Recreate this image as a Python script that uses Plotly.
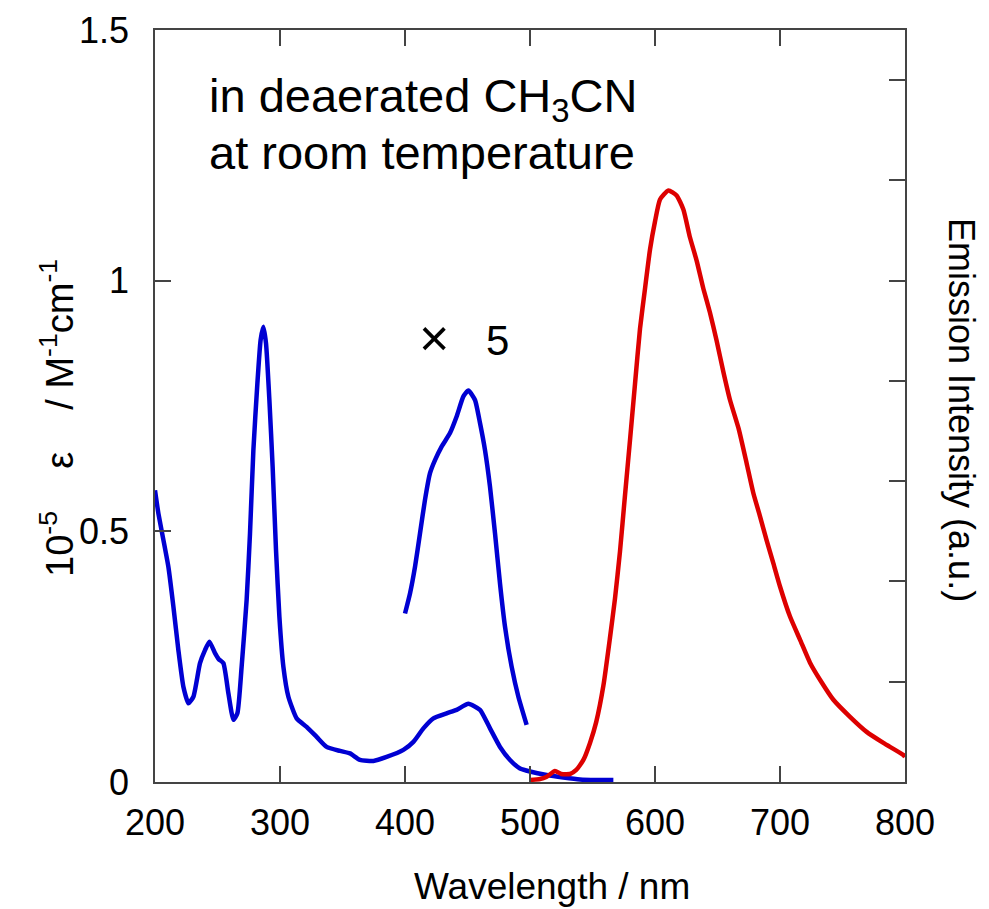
import plotly.graph_objects as go

# Absorption spectrum (left axis, 10^-5 eps / M^-1 cm^-1)
abs_wl = [200, 202.7, 206.7, 210.7, 214.7, 218.7, 222.7, 226.7, 230.7, 236, 240, 243.5, 248, 251,
          254.7, 258.7, 262.7, 265.9, 269.3, 273.3, 276, 278.7, 281.9, 284.5, 286.7, 288.8, 291.5,
          294.1, 296.8, 299.5, 302.7, 306.7, 313.3, 321.3, 329.3, 337.3, 348, 356, 364, 374.7,
          385.3, 398.7, 406.7, 414.7, 422.7, 433.3, 441.3, 450.7, 460, 468, 476, 484, 492, 500,
          513.3, 526.7, 540, 553.3, 566.7]
abs_eps = [0.582, 0.536, 0.483, 0.429, 0.35, 0.263, 0.19, 0.157, 0.170, 0.237, 0.263, 0.280, 0.257,
           0.245, 0.237, 0.177, 0.124, 0.137, 0.23, 0.363, 0.496, 0.662, 0.795, 0.882, 0.908, 0.875,
           0.762, 0.629, 0.463, 0.33, 0.23, 0.170, 0.127, 0.110, 0.090, 0.070, 0.062, 0.057, 0.044,
           0.042, 0.050, 0.064, 0.080, 0.107, 0.127, 0.137, 0.144, 0.156, 0.144, 0.107, 0.070,
           0.044, 0.027, 0.021, 0.014, 0.009, 0.005, 0.004, 0.004]

# Visible band magnified x5 (left axis)
x5_wl = [400, 404, 408, 412, 416, 420, 424, 429.3, 436, 441.3, 446.7, 450.7, 456, 460, 464, 468,
         472, 476, 480, 485.3, 490.7, 497.3]
x5_eps = [0.336, 0.376, 0.429, 0.496, 0.563, 0.616, 0.642, 0.669, 0.696, 0.729, 0.769, 0.781,
          0.762, 0.716, 0.662, 0.589, 0.496, 0.396, 0.31, 0.23, 0.170, 0.114]

# Emission spectrum (right axis, a.u.)
em_wl = [500, 508, 513, 520, 525, 532, 537, 542.7, 548, 553, 558.7, 564, 568, 572, 576, 580, 584,
         588, 592, 596, 600, 604, 610.7, 617.3, 622.7, 628, 633.3, 638.7, 644, 649.3, 654.7, 660,
         667, 673.3, 678.7, 684, 689.3, 694.7, 700, 708, 716, 724, 732, 742.7, 756, 769.3, 782.7,
         798.7, 800]
em_int = [0.02, 0.03, 0.05, 0.11, 0.08, 0.08, 0.12, 0.22, 0.39, 0.60, 0.96, 1.44, 1.83, 2.30, 2.86,
          3.41, 3.97, 4.52, 4.92, 5.31, 5.59, 5.81, 5.90, 5.85, 5.71, 5.43, 5.20, 4.92, 4.68, 4.40,
          4.09, 3.81, 3.52, 3.18, 2.88, 2.65, 2.41, 2.18, 1.95, 1.65, 1.42, 1.19, 1.02, 0.82, 0.65,
          0.50, 0.39, 0.27, 0.25]

x_ticks = [200, 300, 400, 500, 600, 700, 800]
y_ticks = [0, 0.5, 1, 1.5]
y_tick_text = ["0", "0.5", "1", "1.5"]

BLUE = "#0000D2"
RED = "#DD0000"
AX = "#444444"
FONT = "Arial, Liberation Sans, sans-serif"

OFF = 8  # page body margin
W, H = 989 - 2 * OFF, 909 - OFF
L, T = 155 - OFF, 30 - OFF
R = W - (905 - OFF)
B = H - (782 - OFF)
PW, PH = W - L - R, H - T - B

def px(x):
    return (x - OFF - L) / PW

def py(y):
    return (H - B - (y - OFF)) / PH

fig = go.Figure()
fig.add_trace(go.Scatter(x=abs_wl, y=abs_eps, mode="lines",
                         line=dict(color=BLUE, width=4.5, shape="spline", smoothing=0.5),
                         showlegend=False))
fig.add_trace(go.Scatter(x=x5_wl, y=x5_eps, mode="lines",
                         line=dict(color=BLUE, width=4.5, shape="spline", smoothing=0.5),
                         showlegend=False))
fig.add_trace(go.Scatter(x=em_wl, y=em_int, mode="lines", yaxis="y2",
                         line=dict(color=RED, width=4.5, shape="spline", smoothing=0.5),
                         showlegend=False))

fig.update_layout(
    width=W, height=H,
    margin=dict(l=L, r=R, t=T, b=B, pad=0, autoexpand=False),
    paper_bgcolor="white", plot_bgcolor="white",
    font=dict(family=FONT, color="black", size=36),
    xaxis=dict(range=[200, 800], tickvals=x_ticks, ticks="inside", ticklen=16,
               tickwidth=1.5, tickcolor=AX, showline=True, linecolor=AX, linewidth=1.5,
               mirror="ticks", showgrid=False, zeroline=False,
               tickfont=dict(size=36, family=FONT), ticklabelstandoff=8),
    yaxis=dict(range=[0, 1.5], tickvals=y_ticks, ticktext=y_tick_text, ticks="inside",
               ticklen=16, tickwidth=1.5, tickcolor=AX, showline=True, linecolor=AX,
               linewidth=1.5, mirror=True, showgrid=False, zeroline=False,
               tickfont=dict(size=36, family=FONT), ticklabelstandoff=17),
    yaxis2=dict(range=[0, 7.5], dtick=1, tick0=0, overlaying="y", side="right",
                ticks="inside", ticklen=16, tickwidth=1.5, tickcolor=AX,
                showticklabels=False, showline=True, linecolor=AX, linewidth=1.5,
                showgrid=False, zeroline=False),
)

NB = "\u00a0"
ann = []
ann.append(dict(text="Wavelength / nm", x=px(552), y=py(886), xref="paper", yref="paper",
                xanchor="center", yanchor="middle", showarrow=False,
                font=dict(size=37, family=FONT)))
ann.append(dict(text="10<sup>-5</sup>" + NB * 4 + "ε" + NB * 4 + "/ M<sup>-1</sup>cm<sup>-1</sup>",
                x=px(57), y=py(418), xref="paper", yref="paper", textangle=-90,
                xanchor="center", yanchor="middle", showarrow=False,
                font=dict(size=38, family=FONT)))
ann.append(dict(text="Emission Intensity (a.u.)", x=px(961), y=py(410), xref="paper",
                yref="paper", textangle=90, xanchor="center", yanchor="middle",
                showarrow=False, font=dict(size=36, family=FONT)))
ann.append(dict(text="in deaerated CH<sub>3</sub>CN", x=px(207), y=py(99), xref="paper",
                yref="paper", xanchor="left", yanchor="middle", align="left",
                showarrow=False, font=dict(size=47, family=FONT)))
ann.append(dict(text="at room temperature", x=px(207), y=py(152), xref="paper",
                yref="paper", xanchor="left", yanchor="middle", align="left",
                showarrow=False, font=dict(size=47, family=FONT)))
ann.append(dict(text="×", x=px(434), y=py(338), xref="paper", yref="paper",
                xanchor="center", yanchor="middle", showarrow=False,
                font=dict(size=52, family=FONT)))
ann.append(dict(text="5", x=px(497), y=py(340), xref="paper", yref="paper",
                xanchor="center", yanchor="middle", showarrow=False,
                font=dict(size=42, family=FONT)))
fig.update_layout(annotations=ann)

fig.write_html("out.html")
